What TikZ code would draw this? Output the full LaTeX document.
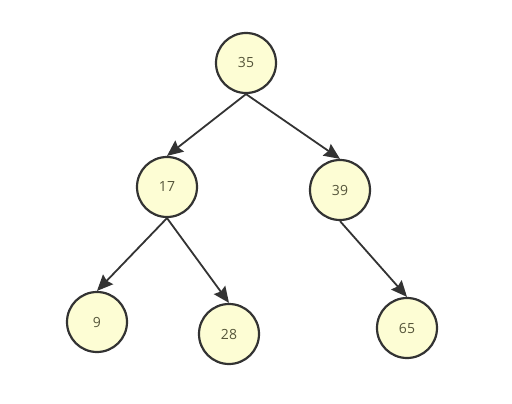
\documentclass[tikz,border=0pt]{standalone}
\usepackage{fontspec}
\setmainfont{Open Sans}
\usetikzlibrary{arrows.meta}
\definecolor{nodefill}{HTML}{FDFDD4}
\definecolor{edgecol}{HTML}{333333}
\definecolor{txtcol}{HTML}{55553A}
\begin{document}
\begin{tikzpicture}[x=1pt,y=-1pt,
  treenode/.style={circle,draw=edgecol,line width=2.2pt,fill=nodefill,minimum size=60pt,inner sep=0pt,font=\fontsize{14}{16}\selectfont,text=txtcol},
  edge/.style={draw=edgecol,line width=1.8pt,-{Stealth[length=16pt,width=14pt,inset=2pt]}}]
\useasboundingbox (0,0) rectangle (512,404);
\node[treenode] (n35) at (246,63) {35};
\node[treenode] (n17) at (167,187) {17};
\node[treenode] (n39) at (340,190) {39};
\node[treenode] (n9) at (97,322) {9};
\node[treenode] (n28) at (229,334) {28};
\node[treenode] (n65) at (407,328) {65};
\draw[edge] (n35.south) -- (n17.north);
\draw[edge] (n35.south) -- (n39.north);
\draw[edge] (n17.south) -- (n9.north);
\draw[edge] (n17.south) -- (n28.north);
\draw[edge] (n39.south) -- (n65.north);
\end{tikzpicture}
\end{document}
